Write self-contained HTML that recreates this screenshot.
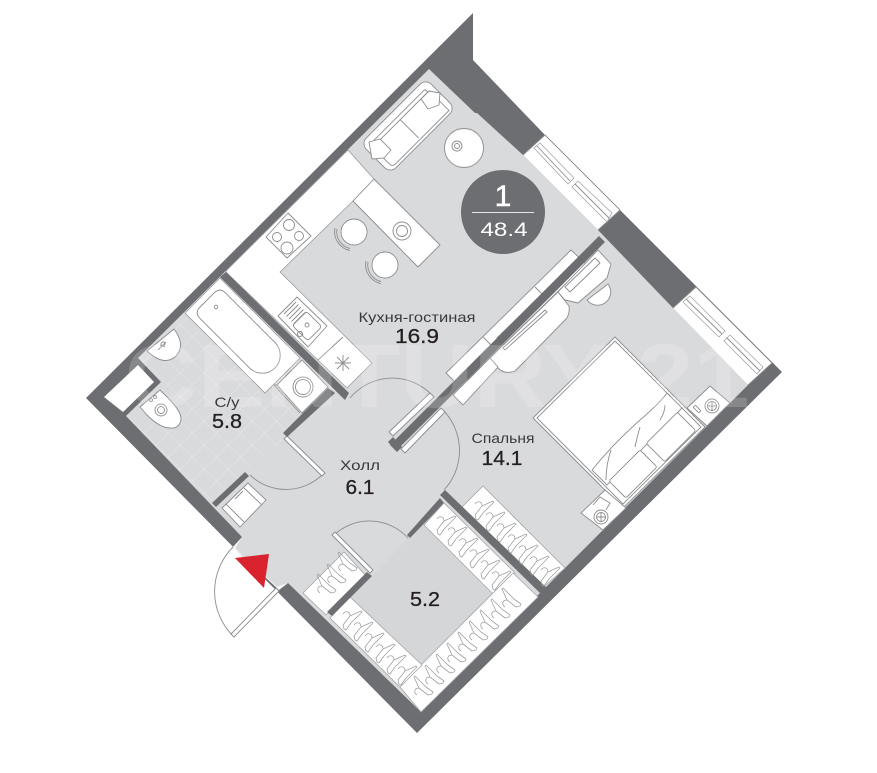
<!DOCTYPE html>
<html><head><meta charset="utf-8"><style>
html,body{margin:0;padding:0;background:#fff;width:877px;height:773px;overflow:hidden}
svg{display:block}
text{font-family:"Liberation Sans",sans-serif;text-anchor:middle}
.l{fill:#fff;stroke:#8c8d8f;stroke-width:.9;stroke-linejoin:round}
.n{fill:none;stroke:#8c8d8f;stroke-width:.9}
.w{fill:#fff;stroke:#a5a6a8;stroke-width:.8}
.d{fill:#6d6e71}
.t{font-size:14px;fill:#3a3a3c}
.b{font-size:20px;fill:#231f20;stroke:#231f20;stroke-width:.3}
</style></head><body>
<svg width="877" height="773" viewBox="0 0 877 773" xmlns="http://www.w3.org/2000/svg">
<defs>
<pattern id="tile" width="17" height="17" patternUnits="userSpaceOnUse" patternTransform="rotate(45)">
<path d="M0 0H17M0 0V17" stroke="#fff" stroke-opacity=".45" stroke-width=".8" fill="none"/>
</pattern>
<g id="h"><path d="M0 2Q2 -1 5 0Q7 1 7 4L18 -1L19 0L8 11L3 18L1 17L0 13L7 4" fill="none" stroke="#a0a1a3" stroke-width=".8" stroke-linejoin="round"/></g>
<g id="v"><use href="#h" transform="rotate(-90)"/></g>
</defs>

<!-- outer walls -->
<polygon class="d" points="473,13 473,60 545,135 782,372 417,733 86,398"/>
<polygon fill="#fff" points="233,547 242,537 288,583 279,590"/>
<!-- floor -->
<polygon fill="#d9dadc" points="429,69 475,113 477,113 523,155 598,230 673,308 748,385 421,712 288,583 277,587 235,548 242,537 126,416 161,382 138,358"/>
<polygon fill="url(#tile)" points="185,313 265,393 277,385 302,413 283,433 286,437 246,472 212,503 126,416 161,382 138,358"/>
<polygon fill="#d5d6d8" points="408,538 443,503 515,573 421,665 350,597 372,576"/>

<!-- shaft -->
<polygon fill="#fff" points="104,397 138,365 154,382 123,412"/>

<!-- windows -->
<polygon fill="#fff" points="545,135 620,210 598,230 523,155"/>
<path class="n" d="M545 135L620 210M598 230L620 210M523 155L545 135"/>
<polygon class="w" points="540,143 574,178 568,184 534,148"/>
<polygon class="w" points="578,181 612,213 607,222 572,187"/>
<path class="n" d="M537 146L570 181M575 184L609 218"/>
<polygon fill="#fff" points="696,287 772,363 748,385 673,308"/>
<path class="n" d="M696 287L772 363L748 385M673 308L696 287"/>
<polygon class="w" points="690,296 725,331 719,337 683,302"/>
<polygon class="w" points="730,335 763,367 757,374 724,341"/>
<path class="n" d="M686 299L722 334M727 338L760 371"/>

<!-- kitchen -->
<polygon fill="#fff" stroke="#9a9b9d" stroke-width=".8" points="227,270 348,150 374,179 353,201 280,272 372,363 347,388 226,272"/>
<polygon class="l" points="374,179 440,245 418,267 353,201"/>
<polygon class="l" points="288,213 311,236 287,258 266,237"/>
<circle class="l" cx="289" cy="225" r="5.500"/><circle class="l" cx="299" cy="236" r="4.500"/><circle class="l" cx="287" cy="248" r="6"/><circle class="l" cx="277" cy="237" r="4.500"/>
<polygon class="l" points="297,297 327,326 308,347 278,316"/>
<rect class="l" x="-11" y="-10" width="22" height="20" rx="3" transform="translate(307 326) rotate(45)"/>
<path class="n" d="M296 302L284 314M298.500 304.500L286.500 316.500M301 307L289 319M303.500 309.500L291.500 321.500M306 312L294 324"/>
<circle class="n" cx="307" cy="325" r="2"/><path class="n" d="M303 335L301 331"/><circle class="n" cx="300" cy="334" r="2.500"/>
<path class="n" d="M318 360L343 337M343 355V371M335 363H351M337 357L349 369M349 357L337 369"/>
<circle class="l" cx="402" cy="231" r="9"/><circle class="n" cx="402" cy="231" r="5.500"/>
<circle class="l" cx="354" cy="232" r="13"/><circle class="l" cx="385" cy="265" r="13"/>
<path class="n" d="M337 229A17 17 0 0 0 350 248.500M335 228A19 19 0 0 0 350 250.500"/>
<path class="n" d="M368 262A17 17 0 0 0 381 281.500M366 261A19 19 0 0 0 381 283.500"/>

<!-- sofa -->
<g transform="translate(408 126) rotate(-45)">
<rect class="l" x="-46" y="-21" width="92" height="42" rx="8"/>
<rect class="l" x="-38" y="-14" width="76" height="4" rx="1.500"/>
<path class="n" d="M-1-10V16M-40-10V14Q-40 18-35 18H40V-10"/>
</g>
<polygon class="l" points="429,91 440,93 439,105 428,109 421,99"/>
<polygon class="l" points="369,142 380,139 391,150 384,158 372,159"/>
<circle class="l" cx="464" cy="148" r="19.500"/><circle class="n" cx="457" cy="146" r="5"/><circle class="n" cx="457" cy="146" r="2.500"/>

<!-- bathroom -->
<polygon fill="#fff" stroke="#9a9b9d" stroke-width=".8" points="185,313 220,278 300,358 265,393"/>
<path class="l" transform="translate(241 334) rotate(45)" d="M-40-18H30A18 18 0 0 1 30 18H-40Q-48 18-48 10V-10Q-48-18-40-18Z"/>
<circle class="n" cx="216" cy="307" r="1.800"/>
<polygon class="l" points="277,385 302,360 328,387 302,413"/>
<path class="n" d="M277 385L274 385L300 413"/>
<circle class="l" cx="303" cy="387" r="10"/><circle class="n" cx="303" cy="387" r="7.500"/>
<path class="l" d="M147 351L174 329Q186 345 176 356Q164 367 147 351Z"/>
<path class="n" d="M158 350L166 342M160 345L165 347"/><circle class="n" cx="163" cy="344" r="2"/>
<path class="l" d="M140 407L160 390L168 398Q182 412 181 420Q179 429 170 428Q160 428 147 415Z"/>
<circle class="n" cx="161" cy="410" r="6"/><circle class="n" cx="161" cy="410" r="3.500"/>
<circle class="n" cx="151" cy="400" r="1.500"/><circle class="n" cx="155" cy="397" r="1.500"/>

<!-- hall armchair -->
<polygon class="l" points="248,483 266,500 240,527 222,508"/>
<path class="n" d="M244 488L262 505M226 504L244 522M235 499L243 491"/>

<!-- partition kitchen / bedroom -->
<polygon class="l" points="571,250 446,373 460,387 586,264"/>
<path class="n" d="M535 287L543 295M483 337L493 347"/>
<polygon class="l" points="497,338 538,298 540,300 499,340"/>
<polygon class="l" points="598,250 611,264 607,278 578,303 565,300 558,292"/>
<polygon class="l" points="595,258 600,263 570,292 565,287"/>
<path class="l" d="M587 300A11 11 0 1 0 608 284Z"/>
<path class="l" d="M558 292L569 306Q570 314 566 319L524 362L515 371Q505 375 498 368L490 358Z"/>
<polygon class="l" points="503,348 545,310 547,312 505,350"/>
<polygon class="l" points="490,358 498,367 463,405 453,395"/>
<polygon class="d" points="599,236 605,242 396,451 390,445"/>
<polygon class="d" points="388,442 393,437 402,447 397,452"/>

<!-- doors -->
<path class="n" d="M350 398A55 55 0 0 1 432 395"/>
<polygon class="l" points="430,393 434,397 393,436 389,432"/>
<path class="n" d="M443 410A58 58 0 0 1 444 490"/>
<polygon class="l" points="441,408 445,412 405,453 401,449"/>
<path class="n" d="M323 474A52 52 0 0 1 250 475"/>
<polygon class="l" points="287,436 325,473 322,476 284,439"/>
<path class="n" d="M334 535A52 52 0 0 1 408 538"/>
<polygon class="l" points="335,532 373,570 370,573 332,535"/>
<path class="l" d="M233 547A63 63 0 0 0 233 636"/>
<polygon class="l" points="276,588 279,591 234,637 231,634"/>

<!-- inner walls -->
<polygon class="d" points="226,272 349,393 345,400 220,277"/>
<polygon class="d" points="328,388 335,393 287,437 283,433"/>
<polygon class="d" points="245,472 249,476 216,507 212,503"/>
<polygon class="d" points="407,535 410,538 444,503 440,498"/>

<!-- closets -->
<polygon class="w" points="483,486 462,507 540,590 565,568"/>
<polygon class="w" points="444,503 424,525 493,594 515,573"/>
<polygon class="w" points="421,665 513,573 538,597 421,712 400,687"/>
<polygon class="w" points="330,618 350,597 422,665 400,687"/>
<polygon class="w" points="303,593 344,552 367,577 326,615"/>
<polygon class="d" points="445,490 547,588 541,594 440,495"/>
<polygon class="d" points="367,572 372,576 332,616 327,612"/>
<use href="#h" x="475" y="502"/><use href="#h" x="486" y="513"/><use href="#h" x="497" y="524"/><use href="#h" x="508" y="535"/><use href="#h" x="519" y="546"/><use href="#h" x="530" y="557"/><use href="#h" x="541" y="568"/>
<use href="#h" x="437" y="517"/><use href="#h" x="448" y="528"/><use href="#h" x="459" y="539"/><use href="#h" x="470" y="550"/><use href="#h" x="481" y="561"/><use href="#h" x="492" y="572"/>
<use href="#h" x="343" y="612"/><use href="#h" x="354" y="623"/><use href="#h" x="365" y="634"/><use href="#h" x="376" y="645"/><use href="#h" x="387" y="656"/><use href="#h" x="398" y="667"/>
<use href="#v" x="415" y="695"/><use href="#v" x="426" y="684"/><use href="#v" x="437" y="673"/><use href="#v" x="448" y="662"/><use href="#v" x="459" y="651"/><use href="#v" x="470" y="640"/><use href="#v" x="481" y="629"/><use href="#v" x="492" y="618"/><use href="#v" x="503" y="607"/>
<use href="#v" x="318" y="593"/><use href="#v" x="328" y="583"/><use href="#v" x="339" y="571"/>

<!-- bedroom -->
<polygon class="l" points="615,337 705,427 623,508 533,418"/>
<polygon fill="#fff" stroke="#8c8d8f" stroke-width=".9" points="615,341 701,427 623,504 537,418"/>
<path class="n" d="M667 393Q660 403 640 420Q612 445 592 470L607 485L682 408Z"/>
<path class="n" d="M611 450Q606 465 606 480M640 427Q637 437 635 447M665 405Q665 412 660 420"/>
<rect class="l" x="-22" y="-13" width="44" height="26" rx="2" transform="translate(671 437) rotate(-45)"/>
<rect class="l" x="-22" y="-12" width="44" height="24" rx="2" transform="translate(633 474) rotate(-45)"/>
<polygon class="l" points="710,386 730,403 707,426 687,408"/>
<circle class="l" cx="712" cy="406" r="7"/><circle class="n" cx="712" cy="406" r="4.500"/><path class="n" d="M712 402V410M708 406H716"/>
<rect class="n" x="-4" y="-1.500" width="8" height="3" rx="1" transform="translate(697 409) rotate(45)"/>
<polygon class="l" points="605,490 626,508 603,530 581,513"/>
<circle class="l" cx="601" cy="517" r="7"/><circle class="n" cx="601" cy="517" r="4.500"/><path class="n" d="M601 513V521M597 517H605"/>
<path class="n" d="M593 505L600 497L610 503L606 510"/>

<!-- entry marker -->
<polygon fill="#d9232e" points="235,558 269,554 264,588"/>

<!-- watermark -->
<text x="437" y="407" font-size="90" font-weight="bold" fill="#fff" fill-opacity=".18" textLength="625" lengthAdjust="spacingAndGlyphs">CENTURY 21</text>

<!-- badge -->
<circle class="d" cx="503" cy="212" r="42"/>
<line x1="472" y1="212.500" x2="534" y2="212.500" stroke="#e6e6e7" stroke-width="1"/>
<text x="503" y="206" font-size="30" fill="#fff" stroke="#fff" stroke-width=".5">1</text>
<text x="504" y="236" font-size="19" fill="#fff" textLength="47" lengthAdjust="spacingAndGlyphs">48.4</text>

<!-- labels -->
<text class="t" x="417" y="322" textLength="117" lengthAdjust="spacingAndGlyphs">Кухня-гостиная</text>
<text class="b" x="417" y="343" textLength="44" lengthAdjust="spacingAndGlyphs">16.9</text>
<text class="t" x="227" y="407" textLength="25" lengthAdjust="spacingAndGlyphs">С/у</text>
<text class="b" x="227" y="428" textLength="30" lengthAdjust="spacingAndGlyphs">5.8</text>
<text class="t" x="360" y="470" textLength="40" lengthAdjust="spacingAndGlyphs">Холл</text>
<text class="b" x="360" y="494" textLength="29" lengthAdjust="spacingAndGlyphs">6.1</text>
<text class="t" x="503" y="443" textLength="63" lengthAdjust="spacingAndGlyphs">Спальня</text>
<text class="b" x="502" y="465" textLength="41" lengthAdjust="spacingAndGlyphs">14.1</text>
<text class="b" x="425" y="606" textLength="30" lengthAdjust="spacingAndGlyphs">5.2</text>
</svg>
</body></html>
